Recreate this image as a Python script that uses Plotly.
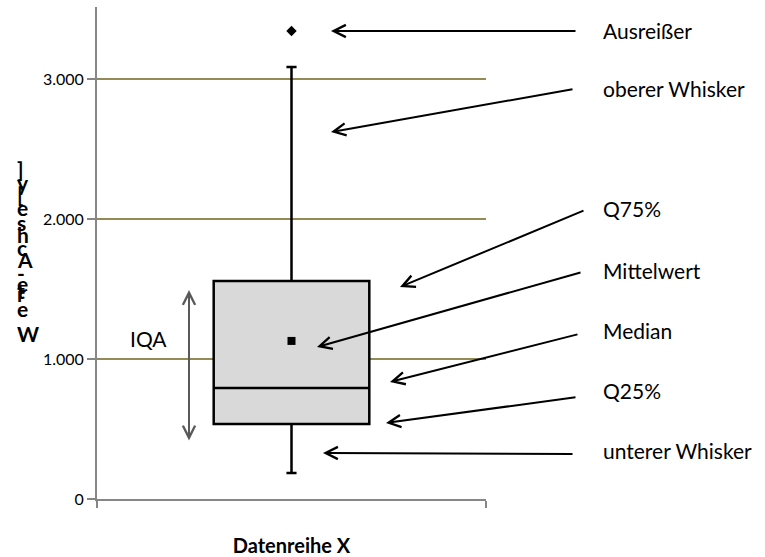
import plotly.graph_objects as go

# ---- data ----
category = ["Datenreihe X"]
q1 = [536]
median = [793]
q3 = [1557]
mean = [1129]
lower_whisker = [186]
upper_whisker = [3086]
outliers = [3343]
y_tickvals = [0, 1000, 2000, 3000]
y_ticktext = ["0", "1.000", "2.000", "3.000"]
y_title = "Werte-Achse [y]"
labels = ["Ausreißer", "oberer Whisker", "Q75%", "Mittelwert", "Median", "Q25%", "unterer Whisker"]

# ---- layout geometry (pixels) ----
W, H = 765, 557
L, R, T, B = 97, 486, 7, 499
YMAX = 3514
FONT = "Lato, Carlito, Calibri, sans-serif"
OLIVE = "#948A54"
AXIS = "#868686"


def xp(px):
    return (px - L) / (R - L)


def yp(py):
    return (B - py) / (B - T)


fig = go.Figure()

fig.add_trace(go.Box(
    x=[0], q1=q1, median=median, q3=q3,
    lowerfence=lower_whisker, upperfence=upper_whisker,
    width=0.4, whiskerwidth=0.065,
    fillcolor="#D9D9D9", line=dict(color="black", width=2.5),
    boxpoints=False, showlegend=False, hoverinfo="skip",
))
fig.add_trace(go.Scatter(
    x=[0] * len(mean), y=mean, mode="markers",
    marker=dict(symbol="square", size=8, color="black"),
    showlegend=False, hoverinfo="skip",
))
fig.add_trace(go.Scatter(
    x=[0] * len(outliers), y=outliers, mode="markers",
    marker=dict(symbol="diamond", size=8, color="black"),
    showlegend=False, hoverinfo="skip",
))

# arrows: (head px, tail px), text y px
arrows = [
    ((331, 31), (577, 31), 30),
    ((331, 132), (574, 89), 88),
    ((400, 287), (585, 210), 208),
    ((317, 347), (582, 272), 270),
    ((390, 382), (579, 334), 330),
    ((386, 423), (577, 397), 390),
    ((323, 453), (574, 454), 450),
]
annotations = []
for (head, tail, ty), lab in zip(arrows, labels):
    annotations.append(dict(
        x=xp(head[0]), y=yp(head[1]), ax=tail[0] - head[0], ay=tail[1] - head[1],
        xref="paper", yref="paper", axref="pixel", ayref="pixel",
        text="", showarrow=True, arrowhead=5, arrowsize=1.2, arrowwidth=2,
        arrowcolor="black", standoff=0, startstandoff=0,
    ))
    annotations.append(dict(
        x=xp(601), y=yp(ty), xref="paper", yref="paper", text=lab, showarrow=False,
        xanchor="left", yanchor="middle",
        font=dict(family=FONT, size=21, color="black"),
    ))

# IQA double arrow
annotations.append(dict(
    x=xp(189), y=yp(290), ax=0, ay=442 - 290,
    xref="paper", yref="paper", axref="pixel", ayref="pixel",
    text="", showarrow=True, arrowhead=5, startarrowhead=5, arrowside="end+start",
    arrowsize=1.2, startarrowsize=1.2, arrowwidth=2, arrowcolor="#595959",
    standoff=0, startstandoff=0,
))
annotations.append(dict(
    x=xp(148), y=yp(338), xref="paper", yref="paper", text="IQA", showarrow=False,
    xanchor="center", yanchor="middle",
    font=dict(family=FONT, size=21, color="black"),
))

# stacked (garbled) y-axis title, top to bottom
title_chars = list(reversed(list(y_title.replace(" ", ""))))
char_py = [168, 183, 193, 207, 223, 235, 247, 259, 272, 283, 290, 294, 308, 334]
for ch, py in zip(title_chars, char_py):
    annotations.append(dict(
        x=xp(15), y=yp(py), xref="paper", yref="paper",
        text="<b>%s</b>" % ch, showarrow=False, xanchor="left", yanchor="middle",
        font=dict(family=FONT, size=21, color="black"),
    ))

fig.update_layout(
    width=W, height=H,
    margin=dict(l=L, r=W - R, t=T, b=H - B, pad=0),
    paper_bgcolor="white", plot_bgcolor="white",
    showlegend=False,
    annotations=annotations,
    xaxis=dict(
        range=[-0.5, 0.5], showgrid=False, zeroline=False,
        showline=True, linecolor=AXIS, linewidth=2,
        tickvals=[-0.5, 0.5], ticktext=["", ""], ticks="outside",
        ticklen=7, tickwidth=2, tickcolor=AXIS,
        title=dict(text="<b>%s</b>" % category[0], standoff=30,
                   font=dict(family=FONT, size=20, color="black")),
        fixedrange=True,
    ),
    yaxis=dict(
        range=[0, YMAX], showgrid=True, gridcolor=OLIVE, gridwidth=2,
        zeroline=False, showline=True, linecolor=AXIS, linewidth=2,
        tickvals=y_tickvals, ticktext=y_ticktext, ticks="outside",
        ticklen=8, tickwidth=2, tickcolor=AXIS,
        tickfont=dict(family=FONT, size=16, color="black"),
        fixedrange=True,
    ),
)

fig.write_html("out.html", config={"displayModeBar": False},
               post_script="document.body.style.margin='0';")
